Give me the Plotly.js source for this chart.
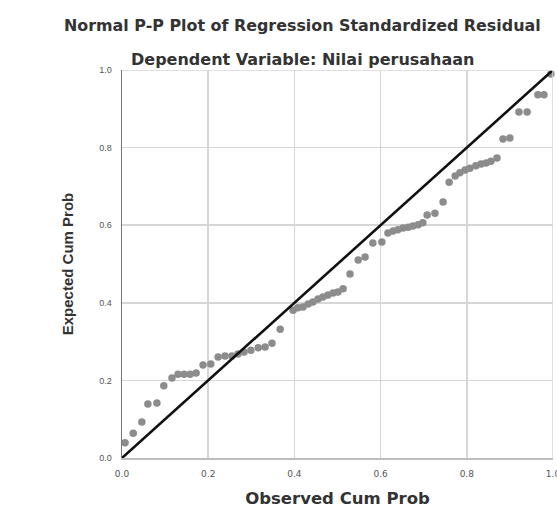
<!DOCTYPE html>
<html>
<head>
<meta charset="utf-8">
<script src="https://cdn.plot.ly/plotly-3.0.1.min.js"></script>
<style>html,body{margin:0;padding:0;background:#fff;}#chart{width:557px;height:514px;}</style>
</head>
<body>
<div id="chart"></div>
<script>
const observedCumProb = [0.007,0.026,0.046,0.060,0.081,0.097,0.116,0.130,0.144,0.158,0.172,0.188,0.206,0.223,0.239,0.255,0.269,0.283,0.299,0.316,0.332,0.348,0.367,0.397,0.408,0.420,0.432,0.443,0.455,0.466,0.478,0.490,0.501,0.513,0.529,0.548,0.564,0.582,0.603,0.617,0.629,0.640,0.652,0.664,0.675,0.687,0.698,0.708,0.726,0.745,0.759,0.773,0.784,0.796,0.807,0.821,0.833,0.845,0.856,0.870,0.884,0.900,0.921,0.940,0.965,0.979,0.995];
const expectedCumProb = [0.039,0.064,0.093,0.139,0.142,0.186,0.206,0.216,0.216,0.216,0.219,0.240,0.242,0.260,0.263,0.263,0.268,0.273,0.278,0.284,0.286,0.296,0.332,0.381,0.387,0.389,0.397,0.402,0.410,0.415,0.420,0.425,0.428,0.436,0.474,0.510,0.518,0.554,0.557,0.580,0.585,0.588,0.593,0.595,0.598,0.601,0.606,0.626,0.631,0.660,0.711,0.727,0.735,0.742,0.747,0.753,0.758,0.760,0.765,0.773,0.822,0.825,0.892,0.892,0.936,0.936,0.990];
const refLineX = [0, 1];
const refLineY = [0, 1];
const tickVals = [0, 0.2, 0.4, 0.6, 0.8, 1.0];
const tickText = ["0.0", "0.2", "0.4", "0.6", "0.8", "1.0"];

const wideFont = 'DejaVu Sans, Verdana, sans-serif';
const narrowFont = 'Liberation Sans, Arial, sans-serif';

const traces = [
  {x: observedCumProb, y: expectedCumProb, type: 'scatter', mode: 'markers',
   marker: {color: '#8c8c8c', size: 7.5, line: {width: 0}}, cliponaxis: false, hoverinfo: 'skip'},
  {x: refLineX, y: refLineY, type: 'scatter', mode: 'lines',
   line: {color: '#111', width: 2.6}, cliponaxis: false, hoverinfo: 'skip'}
];

const axisCommon = {
  range: [0, 1], tickvals: tickVals, ticktext: tickText,
  showgrid: true, gridcolor: '#d6d6d6', gridwidth: 1.5,
  zeroline: false, ticks: 'outside', ticklen: 7, tickcolor: 'rgba(0,0,0,0)',
  ticklabeloverflow: 'allow',
  tickfont: {family: wideFont, size: 9, color: '#555'},
  fixedrange: true
};

const layout = {
  width: 557, height: 514,
  margin: {l: 122, r: 4, t: 70, b: 56},
  paper_bgcolor: '#fff', plot_bgcolor: '#fff',
  showlegend: false,
  xaxis: Object.assign({}, axisCommon, {
    showline: true, linecolor: '#bdbdbd', linewidth: 1.5, mirror: false,
    title: {text: 'Observed Cum Prob', standoff: 14,
            font: {family: wideFont, size: 16.5, color: '#333', weight: 'bold'}}
  }),
  yaxis: Object.assign({}, axisCommon, {
    showline: true, linecolor: '#777', linewidth: 1.5,
    tickfont: {family: narrowFont, size: 9, color: '#555'},
    title: {text: 'Expected Cum Prob', standoff: 22,
            font: {family: narrowFont, size: 15, color: '#333', weight: 'bold'}}
  }),
  shapes: [
    {type: 'line', xref: 'x', yref: 'y', x0: 1, x1: 1, y0: 0, y1: 1, line: {color: '#d6d6d6', width: 1.5}},
    {type: 'line', xref: 'x', yref: 'y', x0: 0, x1: 1, y0: 1, y1: 1, line: {color: '#d6d6d6', width: 1.5}}
  ],
  annotations: [
    {text: '<b>Normal P-P Plot of Regression Standardized Residual</b>', xref: 'paper', yref: 'paper',
     x: 0.418, y: 1.0, yshift: 45, xanchor: 'center', yanchor: 'middle', showarrow: false,
     font: {family: wideFont, size: 15.9, color: '#333'}},
    {text: '<b>Dependent Variable: Nilai perusahaan</b>', xref: 'paper', yref: 'paper',
     x: 0.418, y: 1.0, yshift: 11, xanchor: 'center', yanchor: 'middle', showarrow: false,
     font: {family: wideFont, size: 16, color: '#333'}}
  ]
};

Plotly.newPlot('chart', traces, layout, {displayModeBar: false, staticPlot: true});
</script>
</body>
</html>
